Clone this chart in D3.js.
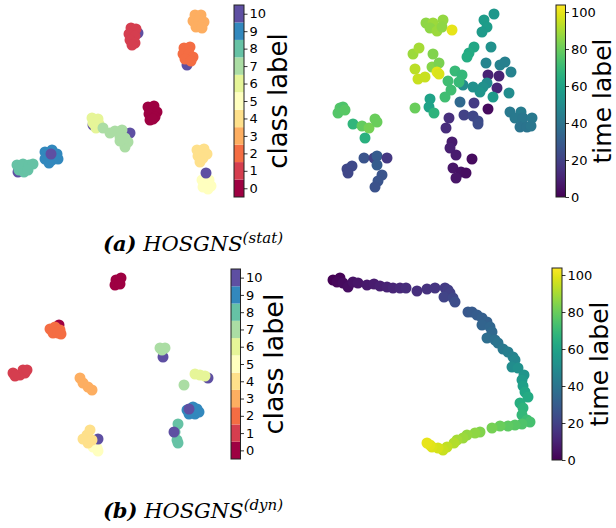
<!DOCTYPE html>
<html><head><meta charset="utf-8">
<script src="https://cdn.jsdelivr.net/npm/d3@7"></script>
<style>body{margin:0;background:#fff}svg{display:block}</style>
</head><body><svg id="c" width="616" height="528"></svg>
<script>
// ---------- DATA ----------
const classes = [0,1,2,3,4,5,6,7,8,9,10];
const classTicks = [0,1,2,3,4,5,6,7,8,9,10];
const timeTicks = [0,20,40,60,80,100];
const timeMax = 103.8;

// (a) static, class-coloured embedding: [x, y, class]
const statClassPoints = [
  [138,33,10],
  [131,28,1],[136,29,1],[129,34,1],[135,36,1],[130,40,1],[135,43,1],[132,45,1],
  [195,15,3],[201,15,3],[193,21,3],[199,21,3],[204,22,3],[196,27,3],[202,28,3],
  [187,65,10],
  [184,48,2],[190,47,2],[183,54,2],[189,54,2],[193,57,2],[185,59,2],[191,61,2],
  [148,107,0],[154,106,0],[157,112,0],[149,114,0],[155,117,0],[150,120,0],[153,119,0],
  [93,125,10],
  [92,118,6],[98,119,6],[93,123,6],[99,124,6],[96,128,6],
  [130,133,10],
  [103,128,7],[110,133,7],[115,131,7],[122,130,7],[120,137,7],[125,138,7],[128,142,7],[125,147,7],[120,141,7],
  [45,152,9],[52,150,9],[57,154,9],[45,159,9],[52,160,9],[58,159,9],[49,163,9],
  [51,154,10],
  [18,172,10],
  [17,165,8],[23,164,8],[29,165,8],[33,164,8],[19,170,8],[24,172,8],[28,170,8],
  [197,150,4],[204,149,4],[207,154,4],[198,156,4],[203,158,4],[200,162,4],
  [202,180,5],[209,180,5],[205,184,5],[211,186,5],[203,187,5],[208,189,5],
  [206,173,10]
];

// (a) static, time-coloured embedding: [x, y, time]
const statTimePoints = [
  [426,23,86],[433,23,88],[430,28,86],[437,31,88],[443,20,87],[442,27,86],[452,30,100],
  [494,14,55],[484,20,57],[487,27,57],[482,32,56],[491,47,52],[474,47,62],[469,53,63],[467,57,64],
  [486,63,47],[500,65,46],[505,62,45],[511,72,46],
  [488,75,10],[499,76,10],[497,88,11],
  [487,83,50],[483,87,52],[480,92,54],[473,87,52],[463,85,50],[493,97,56],[509,93,50],
  [413,54,88],[419,48,90],[433,54,84],[432,67,85],[439,63,83],[415,69,93],[418,79,95],[425,77,95],[437,72,99],[439,74,98],
  [455,71,70],[462,75,69],[459,82,70],[448,81,72],[451,90,72],[445,97,72],[430,99,60],[415,108,80],[429,107,60],[434,113,67],
  [460,102,35],[474,103,18],[488,109,3],[464,115,20],[473,116,22],[478,121,23],[478,124,24],[449,118,14],[446,128,13],
  [510,112,42],[521,112,43],[515,118,42],[523,118,41],[532,118,42],[520,127,40],[527,127,40],[531,126,41],
  [452,142,8],[450,148,9],[456,155,8],[472,159,3],[453,168,6],[461,172,5],[466,173,4],[456,178,6],
  [340,108,76],[343,107,75],[338,113,76],[345,110,77],[353,124,68],[362,126,79],[369,128,82],[375,119,80],[377,122,80],[365,138,66],
  [364,158,27],[374,158,20],[377,156,30],[387,158,17],[377,165,30],[347,169,22],[352,166,23],[348,173,22],[382,175,27],[378,181,27],[375,187,26]
];

// (b) dynamic, class-coloured embedding: [x, y, class]
const dynClassPoints = [
  [116,280,0],[121,278,0],[115,285,0],[120,284,0],
  [59,325,0],
  [50,329,2],[55,327,2],[60,330,2],[53,333,2],[58,333,2],[61,334,2],
  [13,373,1],[23,370,1],[25,373,1],[20,375,1],[15,376,1],[27,370,1],
  [80,378,3],[83,383,3],[88,387,3],[92,390,3],
  [97,448,5],[93,447,5],[98,451,5],
  [98,439,10],
  [90,430,4],[87,435,4],[83,439,4],[88,443,4],[92,440,4],
  [163,357,10],
  [162,350,7],[160,348,7],[165,348,7],
  [184,385,7],
  [208,378,10],
  [195,374,6],[200,375,6],[205,376,6],
  [187,410,9],[193,407,9],[197,409,9],[189,414,9],[195,414,9],[199,412,9],
  [189,409,10],
  [178,424,8],[175,432,8],[177,440,8],[178,443,8],
  [174,432,10]
];

// (b) dynamic, time-coloured embedding: [x, y, time]
const dynTimePoints = [
  [333,280,0],[340,278,1],[337,282,2],[343,283,3],[348,287,4],[353,282,5],[358,283,6],[367,285,7],[374,284,8],
  [380,286,9],[387,287,10],[393,288,11],[400,288,12],[406,288,13],[417,291,14],[427,289,15],[435,288,16],
  [445,288,18],[448,290,19],[450,293,20],[444,297,21],[453,298,22],[455,302,24],
  [468,312,28],[472,312,29],[477,315,30],[482,318,31],[487,322,32],[482,325,33],[490,327,34],[492,332,35],
  [487,338,37],[495,340,38],[498,343,40],[503,349,42],[508,352,44],[513,357,46],[515,360,48],[512,367,50],
  [518,368,52],[524,375,54],[522,380,56],[523,386,58],[525,392,61],[528,397,63],[520,403,65],[523,408,67],
  [522,415,69],[527,420,71],[530,422,73],[522,424,75],[515,425,77],[508,426,78],[500,426,80],[492,428,82],
  [480,432,84],[475,433,86],[467,435,87],[463,438,88],[457,440,90],[454,443,92],[447,447,94],[443,450,95],
  [438,448,97],[432,447,98],[430,445,99],[427,443,100]
];

// ---------- DRAW ----------
const svg = d3.select("#c");
const spectral = d3.schemeSpectral[11];
const classColor = d3.scaleOrdinal().domain(classes).range(spectral);
const timeColor = d3.scaleSequential(d3.interpolateViridis).domain([0, timeMax]);
const R = 5.5;

function scatter(points, box, colorFn) {
  const x = d3.scaleLinear().domain([box[0], box[1]]).range([box[0], box[1]]);
  const y = d3.scaleLinear().domain([box[2], box[3]]).range([box[2], box[3]]);
  svg.append("g").selectAll("circle").data(points).join("circle")
    .attr("cx", d => x(d[0])).attr("cy", d => y(d[1])).attr("r", R)
    .attr("fill", d => colorFn(d[2]));
}

function styleAxis(g) {
  g.select(".domain").remove();
  g.selectAll(".tick line").attr("stroke", "#000").attr("stroke-width", 0.8);
  g.selectAll(".tick text").attr("fill", "#000")
    .style("font-family", "DejaVu Sans, sans-serif").style("font-size", "13px");
}

function classBar(x0, y0, y1, w, labelX, labelSize) {
  const y = d3.scaleLinear().domain([-0.5, 10.5]).range([y1, y0]);
  const g = svg.append("g");
  g.selectAll("rect.c").data(classes).join("rect").attr("class", "c")
    .attr("x", x0).attr("width", w)
    .attr("y", c => y(c + 0.5)).attr("height", c => y(c - 0.5) - y(c + 0.5))
    .attr("fill", c => classColor(c));
  g.append("rect").attr("x", x0).attr("y", y0).attr("width", w).attr("height", y1 - y0)
    .attr("fill", "none").attr("stroke", "#222").attr("stroke-width", 1);
  const ax = g.append("g").attr("transform", `translate(${x0 + w},0)`)
    .call(d3.axisRight(y).tickValues(classTicks).tickSize(3.5).tickPadding(2).tickFormat(d3.format("d")));
  styleAxis(ax);
  svg.append("text").attr("transform", `translate(${labelX},${(y0 + y1) / 2}) rotate(-90)`)
    .attr("text-anchor", "middle").style("font-family", "DejaVu Sans, sans-serif")
    .style("font-size", labelSize + "px").attr("fill", "#000").text("class label");
}

let gid = 0;
function timeBar(x0, y0, y1, w, labelX, labelSize) {
  const y = d3.scaleLinear().domain([0, timeMax]).range([y1, y0]);
  const id = "vg" + (gid++);
  const grad = svg.append("defs").append("linearGradient").attr("id", id)
    .attr("x1", 0).attr("y1", 1).attr("x2", 0).attr("y2", 0);
  d3.range(0, 1.0001, 0.05).forEach(t => grad.append("stop")
    .attr("offset", t).attr("stop-color", d3.interpolateViridis(t)));
  const g = svg.append("g");
  g.append("rect").attr("x", x0).attr("y", y0).attr("width", w).attr("height", y1 - y0)
    .attr("fill", `url(#${id})`).attr("stroke", "#222").attr("stroke-width", 1);
  const ax = g.append("g").attr("transform", `translate(${x0 + w},0)`)
    .call(d3.axisRight(y).tickValues(timeTicks).tickSize(3.5).tickPadding(2).tickFormat(d3.format("d")));
  styleAxis(ax);
  svg.append("text").attr("transform", `translate(${labelX},${(y0 + y1) / 2}) rotate(-90)`)
    .attr("text-anchor", "middle").style("font-family", "DejaVu Sans, sans-serif")
    .style("font-size", labelSize + "px").attr("fill", "#000").text("time label");
}

function caption(cx, cy, letter, sup) {
  const t = svg.append("text").attr("x", cx).attr("y", cy).attr("text-anchor", "middle")
    .style("font-family", "DejaVu Serif, serif").style("font-size", "21px").attr("fill", "#000");
  t.append("tspan").style("font-weight", "bold").style("font-style", "italic").text("(" + letter + ")");
  t.append("tspan").style("font-style", "italic").text(" HOSGNS");
  t.append("tspan").attr("dy", -8).style("font-size", "15px").style("font-style", "italic").text("(" + sup + ")");
}

scatter(statClassPoints, [0, 220, 0, 200], classColor);
scatter(statTimePoints, [300, 540, 0, 200], timeColor);
scatter(dynClassPoints, [0, 220, 260, 470], classColor);
scatter(dynTimePoints, [300, 540, 260, 470], timeColor);

classBar(234, 5, 197, 10, 287, 26);
timeBar(556, 5, 197, 9.5, 611, 25);
classBar(231, 269, 459, 9.5, 283, 27);
timeBar(552, 268, 460, 10, 608, 25);

caption(193, 251, "a", "stat");
caption(193, 518, "b", "dyn");
</script></body></html>
